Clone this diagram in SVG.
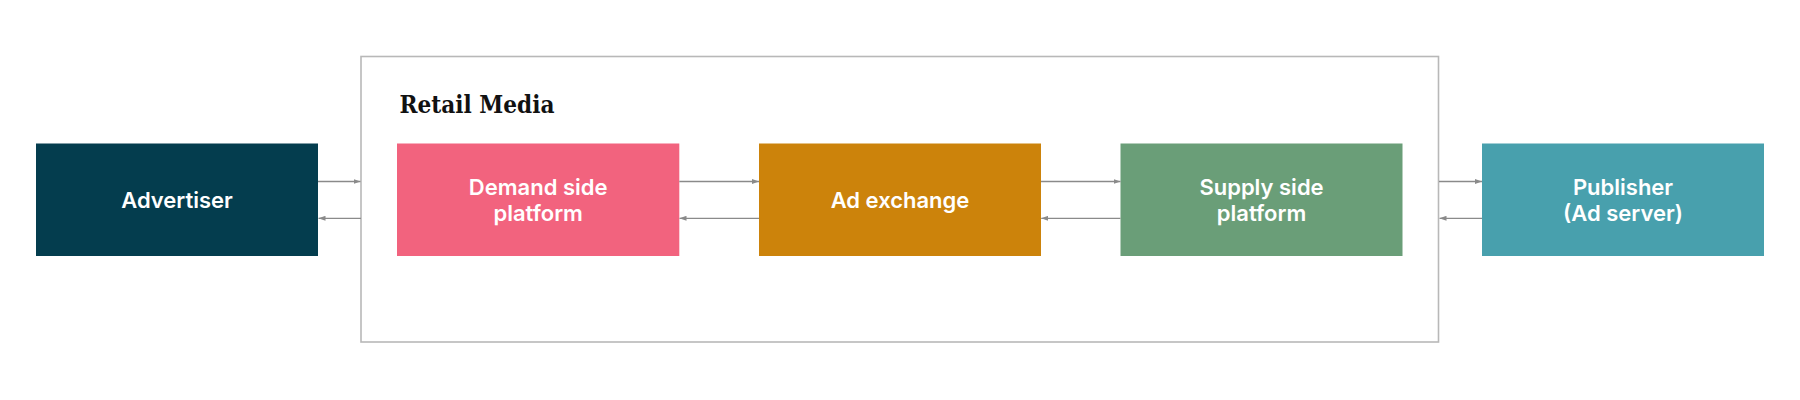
<svg xmlns="http://www.w3.org/2000/svg" width="1800" height="400" viewBox="0 0 1800 400">
  <style>
    .node-label { font-family: Inter, "Noto Sans", "Liberation Sans", sans-serif; font-weight: 600; font-size: 22px; fill: #ffffff; text-anchor: middle; }
    .title { font-family: "DejaVu Serif", "Liberation Serif", serif; font-weight: 700; font-size: 25px; fill: #111111; }
    .conn { stroke: #8a8a8a; stroke-width: 1.3; fill: none; marker-end: url(#arrow); }
  </style>
  <defs>
    <marker id="arrow" viewBox="0 0 7 5" refX="7" refY="2.5" markerWidth="7" markerHeight="5" markerUnits="userSpaceOnUse" orient="auto">
      <path d="M0,0 L7,2.5 L0,5 z" fill="#8a8a8a"/>
    </marker>
  </defs>
  <rect width="1800" height="400" fill="#ffffff"/>

  <g id="retail-media">
    <rect x="361" y="56.5" width="1077.5" height="285.5" fill="none" stroke="#b8b8b8" stroke-width="1.6"/>
    <text class="title" x="399.5" y="112.7" textLength="155" lengthAdjust="spacingAndGlyphs">Retail Media</text>
  </g>

  <g id="advertiser">
    <rect x="36" y="143.5" width="282" height="112.5" fill="#043d4e"/>
    <text class="node-label" x="177" y="207.7">Advertiser</text>
  </g>

  <g id="dsp">
    <rect x="397" y="143.5" width="282.3" height="112.5" fill="#f2637e"/>
    <text class="node-label" x="538.2" y="195">Demand side</text>
    <text class="node-label" x="538.2" y="221">platform</text>
  </g>

  <g id="ad-exchange">
    <rect x="759" y="143.5" width="282" height="112.5" fill="#cc830b"/>
    <text class="node-label" x="900" y="207.7">Ad exchange</text>
  </g>

  <g id="ssp">
    <rect x="1120.5" y="143.5" width="282" height="112.5" fill="#6a9e78"/>
    <text class="node-label" x="1261.5" y="195">Supply side</text>
    <text class="node-label" x="1261.5" y="221">platform</text>
  </g>

  <g id="publisher">
    <rect x="1482" y="143.5" width="282" height="112.5" fill="#48a0ad"/>
    <text class="node-label" x="1623" y="195">Publisher</text>
    <text class="node-label" x="1623" y="221">(Ad server)</text>
  </g>

  <g id="connectors">
    <line class="conn" x1="318" y1="181.5" x2="360.5" y2="181.5"/>
    <line class="conn" x1="361" y1="218.3" x2="318.5" y2="218.3"/>
    <line class="conn" x1="679.3" y1="181.5" x2="759" y2="181.5"/>
    <line class="conn" x1="759" y1="218.3" x2="679.5" y2="218.3"/>
    <line class="conn" x1="1041" y1="181.5" x2="1120.5" y2="181.5"/>
    <line class="conn" x1="1120.5" y1="218.3" x2="1041.2" y2="218.3"/>
    <line class="conn" x1="1439" y1="181.5" x2="1482" y2="181.5"/>
    <line class="conn" x1="1482" y1="218.3" x2="1439.5" y2="218.3"/>
  </g>
</svg>
